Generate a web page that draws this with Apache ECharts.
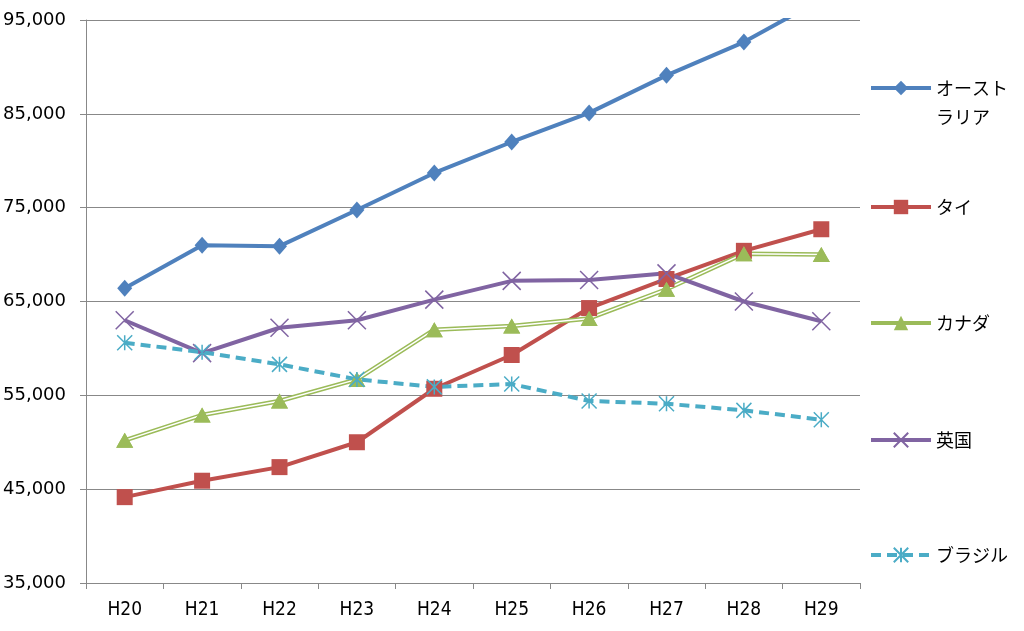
<!DOCTYPE html>
<html><head><meta charset="utf-8">
<script src="https://cdn.jsdelivr.net/npm/echarts@6/dist/echarts.min.js"></script>
<style>html,body{margin:0;padding:0;background:#fff}#c{width:1024px;height:631px}</style>
</head><body><div id="c"></div>
<script>
const categories = ['H20','H21','H22','H23','H24','H25','H26','H27','H28','H29'];
const australia = [66400,71000,70900,74750,78700,82000,85100,89100,92650,97200];
const thailand  = [44150,45900,47350,50000,55700,59300,64300,67400,70400,72700];
const canada    = [50200,52900,54400,56700,62000,62400,63200,66300,70100,70000];
const uk        = [63000,59500,62200,63000,65200,67200,67300,68000,65000,62900];
const brazil    = [60600,59600,58300,56700,55900,56200,54400,54100,53400,52400];
const yMin = 35000, yMax = 95000, yStep = 10000;
const names = ['オーストラリア','タイ','カナダ','英国','ブラジル'];

const C = {au:'#4F81BD', th:'#C0504D', ca:'#9BBB59', uk:'#8064A2', br:'#4BACC6'};
const xPath = 'path://M0,0L10,10M10,0L0,10';
const starPath = 'path://M5,0L5,10M0,0L10,10M10,0L0,10';

const chart = echarts.init(document.getElementById('c'), null, {renderer:'canvas'});
const legendBase = {
  orient:'vertical', left:869, padding:0, itemWidth:60, itemHeight:18,
  lineStyle:{width:4},
  textStyle:{fontFamily:'"Noto Sans CJK JP", sans-serif', fontSize:18, color:'#000', lineHeight:24},
  selectedMode:false
};
const legendCenters = [88, 207, 323, 440, 555];
const legends = names.map((n,i)=>{
  const l = Object.assign({}, legendBase, {data:[n]});
  if (i === 0) {
    l.formatter = () => '\nオースト\nラリア';
    l.textStyle = Object.assign({}, legendBase.textStyle, {lineHeight:29});
    l.top = legendCenters[i] - 43.5;
  } else {
    l.top = legendCenters[i] - 12;
  }
  return l;
});

chart.setOption({
  animation:false,
  backgroundColor:'#fff',
  grid:{left:86, right:164, top:20, bottom:48, containLabel:false},
  legend: legends,
  xAxis:{
    type:'category', data:categories, boundaryGap:true,
    axisLine:{lineStyle:{color:'#888', width:1}},
    axisTick:{show:true, alignWithLabel:false, length:6, lineStyle:{color:'#888'}},
    axisLabel:{color:'#000', fontSize:19, margin:18, fontFamily:'"Liberation Sans Narrow","DejaVu Sans Condensed",sans-serif'}
  },
  yAxis:{
    type:'value', min:yMin, max:yMax, interval:yStep,
    axisLine:{show:true, lineStyle:{color:'#888', width:1}},
    axisTick:{show:true, length:6, lineStyle:{color:'#888'}},
    splitLine:{lineStyle:{color:'#888', width:1}},
    axisLabel:{color:'#000', fontSize:18, margin:20, fontFamily:'"DejaVu Sans",sans-serif',
      formatter: v => v.toLocaleString('en-US')}
  },
  series:[
    {name:names[0], type:'line', data:australia, color:C.au,
     lineStyle:{color:C.au, width:4}, symbol:'diamond', symbolSize:[15,17],
     itemStyle:{color:C.au, borderWidth:0}},
    {name:names[1], type:'line', data:thailand, color:C.th,
     lineStyle:{color:C.th, width:4}, symbol:'rect', symbolSize:16,
     itemStyle:{color:C.th, borderWidth:0}},
    {name:names[2], type:'line', data:canada, color:C.ca,
     lineStyle:{color:C.ca, width:4.5}, symbol:'triangle', symbolSize:[17,15],
     itemStyle:{color:C.ca, borderWidth:0}},
    {name:'canada-inner', type:'line', data:canada, color:'#fff',
     lineStyle:{color:'#fff', width:1.5}, symbol:'none', silent:true},
    {name:'canada-marks', type:'line', data:canada, color:C.ca,
     lineStyle:{width:0, opacity:0}, symbol:'triangle', symbolSize:[17,15],
     itemStyle:{color:C.ca, borderWidth:0}, silent:true},
    {name:names[3], type:'line', data:uk, color:C.uk,
     lineStyle:{color:C.uk, width:4}, symbol:xPath, symbolSize:18,
     itemStyle:{color:C.uk, borderColor:C.uk, borderWidth:1.5}},
    {name:names[4], type:'line', data:brazil, color:C.br,
     lineStyle:{color:C.br, width:4, type:[10,6]}, symbol:starPath, symbolSize:15,
     itemStyle:{color:C.br, borderColor:C.br, borderWidth:1.5}}
  ]
});
</script></body></html>
